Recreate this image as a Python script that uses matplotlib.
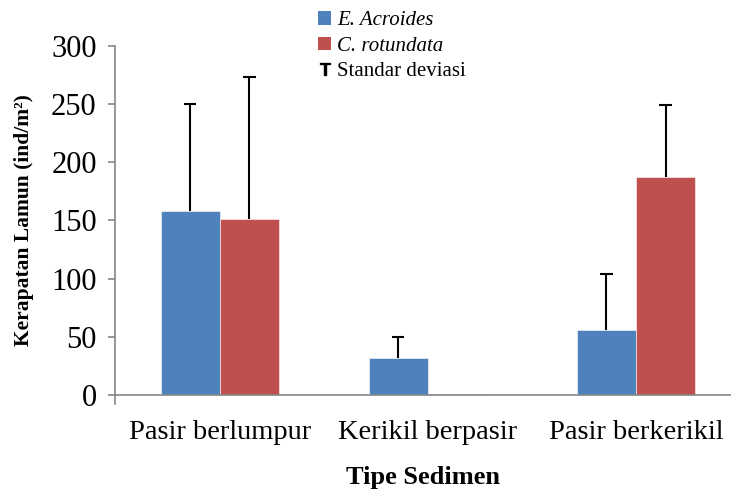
import matplotlib
matplotlib.use("Agg")
import matplotlib.pyplot as plt
from matplotlib.patches import Patch
from matplotlib.lines import Line2D
import numpy as np

plt.rcParams["font.family"] = ["Liberation Serif", "DejaVu Serif"]

categories = ["Pasir berlumpur", "Kerikil berpasir", "Pasir berkerikil"]
series_names = ["E. Acroides", "C. rotundata"]
e_acroides = [158, 32, 56]
c_rotundata = [151, 0.5, 187]
e_sd = [92, 18, 48]
c_sd = [122, 0, 62]

BLUE = "#4F81BD"
RED = "#C0504D"
AXIS = "#868686"

fig = plt.figure(figsize=(7.31, 4.93), dpi=100, facecolor="white")
ax = fig.add_axes([0.157, 0.199, 0.843, 0.708])

x = np.arange(len(categories))
w = 0.285
ax.bar(x - w / 2, e_acroides, width=w, color=BLUE, edgecolor="white", linewidth=0.4)
ax.bar(x + w / 2, c_rotundata, width=w, color=RED, edgecolor="white", linewidth=0.4)


def upper_err(xs, vals, sds):
    # vertical line from bar top up to value + sd, with a cap
    for xi, v, s in zip(xs, vals, sds):
        if s <= 0:
            continue
        ax.vlines(xi, v, v + s, color="black", lw=1.5)
        ax.hlines(v + s, xi - 0.03, xi + 0.03, color="black", lw=1.5)


upper_err(x - w / 2, e_acroides, e_sd)
upper_err(x + w / 2, c_rotundata, c_sd)

ax.set_xlim(-0.505, 2.457)
ax.set_ylim(0, 300)
ax.set_yticks(range(0, 301, 50))
ax.set_xticks(x)
ax.set_xticklabels(categories, fontsize=20.5)
ax.tick_params(axis="x", length=0, pad=18)
ax.tick_params(axis="y", labelsize=22, length=5, direction="out", color=AXIS, width=1.2, pad=8)

for s in ["top", "right"]:
    ax.spines[s].set_visible(False)
for s in ["left", "bottom"]:
    ax.spines[s].set_color(AXIS)
    ax.spines[s].set_linewidth(1.2)

# small tick below origin
ax.plot([-0.505, -0.505], [0, -8], color=AXIS, lw=1.2, clip_on=False)

ax.set_ylabel("Kerapatan Lamun (ind/m²)", fontsize=15.5, fontweight="bold", labelpad=12)
ax.set_xlabel("Tipe Sedimen", fontsize=19, fontweight="bold", labelpad=15)

handles = [Patch(facecolor=BLUE), Patch(facecolor=RED),
           Line2D([], [], marker="$\\mathsf{T}$", color="black", linestyle="none", markersize=9)]
leg = fig.legend(handles, series_names + ["Standar deviasi"], loc="upper left",
                 bbox_to_anchor=(0.41, 1.015), frameon=False, fontsize=15,
                 handlelength=0.6, handleheight=0.6, handletextpad=0.3, labelspacing=0.3)
leg.get_texts()[0].set_style("italic")
leg.get_texts()[1].set_style("italic")

fig.savefig("out.png", dpi=100, facecolor="white")
